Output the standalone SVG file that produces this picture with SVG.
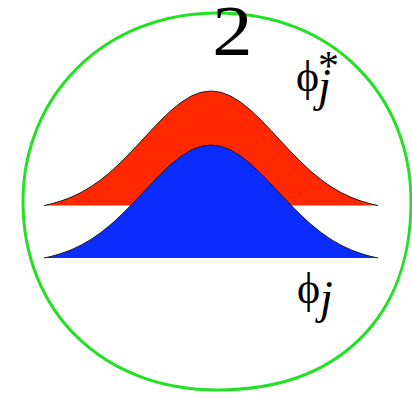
<svg xmlns="http://www.w3.org/2000/svg" width="412" height="398" viewBox="0 0 412 398">
<style>
.edge{fill:none;stroke:#1a1a1a;stroke-width:1;stroke-linejoin:round}
</style>
<rect width="412" height="398" fill="#fff"/>
<g id="ring">
<path d="M217.5,13 C332,13 411,95 411,201.5 C411,318 338,390 217.5,390 C103,390 23,312 23,201.5 C23,95 105,13 217.5,13 Z" fill="none" stroke="#22e022" stroke-width="3"/>
</g>
<g id="red-wave">
<path fill="#ff2800" d="M44,205.5 L51,203.94 61,201.07 71,197.32 81,192.57 91,186.7 101,179.65 111,171.43 121,162.16 131,152.02 141,141.34 151,130.53 161,120.08 171,110.53 181,102.41 191,96.21 201,92.32 211,91 221,92.32 231,96.21 241,102.41 251,110.53 261,120.08 271,130.53 281,141.34 291,152.02 301,162.16 311,171.43 321,179.65 331,186.7 341,192.57 351,197.32 361,201.07 371,203.94 378,205.5 Z"/>
<path class="edge" d="M44,205.5 L51,203.94 61,201.07 71,197.32 81,192.57 91,186.7 101,179.65 111,171.43 121,162.16 131,152.02 141,141.34 151,130.53 161,120.08 171,110.53 181,102.41 191,96.21 201,92.32 211,91 221,92.32 231,96.21 241,102.41 251,110.53 261,120.08 271,130.53 281,141.34 291,152.02 301,162.16 311,171.43 321,179.65 331,186.7 341,192.57 351,197.32 361,201.07 371,203.94 378,205.5"/>
</g>
<g id="blue-wave">
<path fill="#0a2cff" d="M44,258 L51,256.46 61,253.62 71,249.93 81,245.24 91,239.44 101,232.49 111,224.38 121,215.22 131,205.22 141,194.68 151,184.01 161,173.7 171,164.27 181,156.26 191,150.14 201,146.31 211,145 221,146.31 231,150.14 241,156.26 251,164.27 261,173.7 271,184.01 281,194.68 291,205.22 301,215.22 311,224.38 321,232.49 331,239.44 341,245.24 351,249.93 361,253.62 371,256.46 378,258 Z"/>
<path class="edge" d="M44,258 L51,256.46 61,253.62 71,249.93 81,245.24 91,239.44 101,232.49 111,224.38 121,215.22 131,205.22 141,194.68 151,184.01 161,173.7 171,164.27 181,156.26 191,150.14 201,146.31 211,145 221,146.31 231,150.14 241,156.26 251,164.27 261,173.7 271,184.01 281,194.68 291,205.22 301,215.22 311,224.38 321,232.49 331,239.44 341,245.24 351,249.93 361,253.62 371,256.46 378,258"/>
</g>
<g id="label-number">
<text font-family="'Liberation Serif', 'Times New Roman', serif" transform="translate(232.5,55) scale(1.12,1)" font-size="72" text-anchor="middle" fill="#000">2</text>
</g>
<g id="label-phi-star" font-family="'Liberation Serif', 'Times New Roman', serif" fill="#000">
<text x="296" y="91" font-size="44">ϕ</text>
<text x="318" y="101" font-size="46" font-style="italic">j</text>
<text x="318" y="80" font-size="42">*</text>
</g>
<g id="label-phi" font-family="'Liberation Serif', 'Times New Roman', serif" fill="#000">
<text x="297" y="303" font-size="44">ϕ</text>
<text x="320" y="313" font-size="46" font-style="italic">j</text>
</g>
</svg>
